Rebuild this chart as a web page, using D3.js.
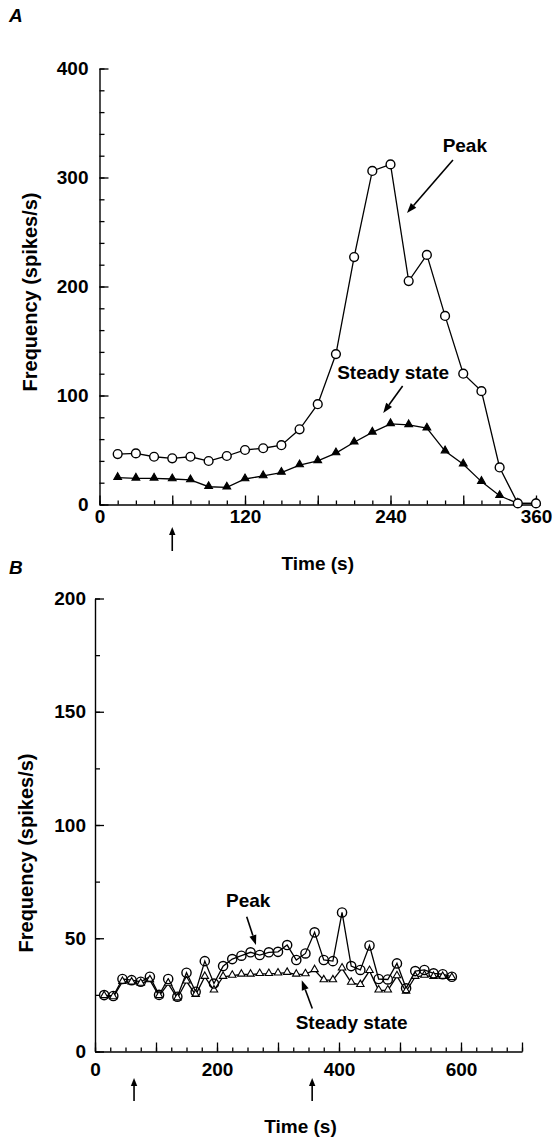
<!DOCTYPE html>
<html>
<head>
<meta charset="utf-8">
<script src="https://cdn.jsdelivr.net/npm/d3@7"></script>
<style>
  html, body { margin: 0; padding: 0; background: #fff; }
  svg text { font-family: "Liberation Sans", Arial, Helvetica, sans-serif; font-weight: bold; fill: #000; }
</style>
</head>
<body>
<svg id="fig" width="555" height="1137"></svg>
<script>
// ---- Panel A: frequency during a ramp stimulus (0-360 s) ----
const timesA  = [15, 30, 45, 60, 75, 90, 105, 120, 135, 150, 165, 180, 195, 210, 225, 240, 255, 270, 285, 300, 315, 330, 345, 360];
const peakA   = [46.3, 46.9, 43.8, 42.4, 43.8, 39.9, 44.5, 50, 51.6, 54.4, 69, 92, 138, 227, 306, 312, 205, 229, 173, 120, 104, 34, 1, 1];
const steadyA = [24.6, 24, 24, 23.4, 22.5, 16.3, 15.8, 23.4, 26.2, 29.3, 36.2, 40, 47.2, 57.1, 66.2, 74, 73, 70, 49, 37, 21, 8, 1, 1];
const stimA   = [60];
const yTicksA = [0, 100, 200, 300, 400];
const xLabelsA = [0, 120, 240, 360];

// ---- Panel B: frequency over 600 s ----
const timesB  = [15, 30, 45, 60, 75, 90, 105, 120, 135, 150, 165, 180, 195, 210, 225, 240, 255, 270, 285, 300,
                 315, 330, 345, 360, 375, 390, 405, 420, 435, 450, 465, 480, 495, 510, 525, 540, 555, 570, 585];
const peakB   = [24.9, 24.5, 32, 31.5, 30.8, 33, 25, 32, 24.2, 34.8, 26.4, 39.9, 30, 37.7, 40.8, 42.3, 43.8, 42.6, 43.8, 44,
                 47, 40.4, 43.3, 52.6, 40.4, 39.9, 61.4, 37.7, 36, 46.8, 32, 31.8, 38.9, 27.9, 35.5, 36, 34.5, 34.1, 33];
const steadyB = [24.5, 24, 30.8, 30.5, 30, 31.5, 24.5, 30, 23.5, 31, 25, 33, 27, 33, 33.5, 34, 34, 34.3, 34.3, 34.5,
                 34.8, 34, 34.2, 36, 31.5, 31.5, 36.7, 30.4, 29.4, 35.6, 27, 27, 33.3, 26.5, 33, 33.5, 33, 33, 32.5];
const stimB   = [64, 356];
const yTicksB = [0, 50, 100, 150, 200];
const xLabelsB = [0, 200, 400, 600];

const svg = d3.select("#fig");
const FS = 19;

function arrow(g, x1, y1, x2, y2, head = 10, half = 3.6) {
  const a = Math.atan2(y2 - y1, x2 - x1);
  const bx = x2 - head * Math.cos(a), by = y2 - head * Math.sin(a);
  g.append("line").attr("x1", x1).attr("y1", y1).attr("x2", bx).attr("y2", by)
    .attr("stroke", "#000").attr("stroke-width", 1.6);
  const px = -Math.sin(a) * half, py = Math.cos(a) * half;
  g.append("path")
    .attr("d", `M${x2},${y2}L${bx + px},${by + py}L${bx - px},${by - py}Z`)
    .attr("fill", "#000");
}

function styleAxis(sel) {
  sel.selectAll("path.domain").attr("stroke", "#000").attr("stroke-width", 1.4);
  sel.selectAll(".tick line").attr("stroke", "#000").attr("stroke-width", 1.3);
  sel.selectAll("text").attr("font-size", FS).attr("font-family", "Liberation Sans, Arial, sans-serif")
     .attr("font-weight", "bold").attr("fill", "#000");
}

function panel(cfg) {
  const g = svg.append("g");
  const x = d3.scaleLinear().domain(cfg.xDomain).range(cfg.xRange);
  const y = d3.scaleLinear().domain(cfg.yDomain).range(cfg.yRange);
  const x0 = cfg.xRange[0], y0 = cfg.yRange[0];

  // y axis: minor ticks, then major ticks with labels (ticks point inward)
  g.append("g").attr("transform", `translate(${x0},0)`)
    .call(d3.axisLeft(y).tickValues(d3.range(cfg.yDomain[0], cfg.yDomain[1] + 1e-9, cfg.yMinor))
      .tickSizeInner(-5).tickSizeOuter(0).tickFormat(""))
    .call(styleAxis);
  g.append("g").attr("transform", `translate(${x0},0)`)
    .call(d3.axisLeft(y).tickValues(cfg.yTicks).tickSizeInner(-9).tickSizeOuter(0).tickPadding(cfg.yPad))
    .call(styleAxis)
    .call(s => s.select("path.domain").remove());

  // x axis
  g.append("g").attr("transform", `translate(0,${y0})`)
    .call(d3.axisBottom(x).tickValues(d3.range(cfg.xDomain[0], cfg.xDomain[1] + 1e-9, cfg.xMinor))
      .tickSizeInner(-4).tickSizeOuter(0).tickFormat(""))
    .call(styleAxis);
  g.append("g").attr("transform", `translate(0,${y0})`)
    .call(d3.axisBottom(x).tickValues(d3.range(cfg.xDomain[0], cfg.xDomain[1] + 1e-9, cfg.xMajor))
      .tickSizeInner(-9).tickSizeOuter(0).tickPadding(cfg.xPad)
      .tickFormat(d => cfg.xLabels.includes(d) ? d : ""))
    .call(styleAxis)
    .call(s => s.select("path.domain").remove());

  // series lines
  const line = d3.line().x(d => x(d[0])).y(d => y(d[1]));
  const pk = cfg.times.map((t, i) => [t, cfg.peak[i]]);
  const ss = cfg.times.map((t, i) => [t, cfg.steady[i]]);
  g.append("path").datum(ss).attr("d", line).attr("fill", "none").attr("stroke", "#000").attr("stroke-width", 1.3);
  g.append("path").datum(pk).attr("d", line).attr("fill", "none").attr("stroke", "#000").attr("stroke-width", 1.3);

  // steady-state markers (triangles)
  g.append("g").selectAll("path").data(ss).join("path")
    .attr("transform", d => `translate(${x(d[0])},${y(d[1]) - 0.5})`)
    .attr("d", d3.symbol(d3.symbolTriangle, cfg.triSize))
    .attr("fill", cfg.triFill).attr("stroke", "#000").attr("stroke-width", 1.1);

  // peak markers (circles)
  g.append("g").selectAll("circle").data(pk).join("circle")
    .attr("cx", d => x(d[0])).attr("cy", d => y(d[1])).attr("r", cfg.circR)
    .attr("fill", cfg.circFill).attr("stroke", "#000").attr("stroke-width", 1.4);

  // stimulus arrows below the time axis
  cfg.stim.forEach(t => arrow(g, x(t), cfg.stimY[1], x(t), cfg.stimY[0], 8, 3.2));

  // axis titles
  g.append("text").attr("x", (cfg.xRange[0] + cfg.xRange[1]) / 2 + cfg.xTitleDx).attr("y", cfg.xTitleY)
    .attr("text-anchor", "middle").attr("font-size", FS).text("Time (s)");
  g.append("text")
    .attr("transform", `translate(${cfg.yTitleX},${cfg.yTitleY}) rotate(-90)`)
    .attr("text-anchor", "middle").attr("font-size", 20).text("Frequency (spikes/s)");

  // panel letter
  g.append("text").attr("x", 9).attr("y", cfg.letterY).attr("font-size", FS)
    .attr("font-style", "italic").text(cfg.letter);

  // series annotations
  cfg.notes.forEach(n => {
    g.append("text").attr("x", x(n.tx)).attr("y", y(n.ty)).attr("font-size", FS).text(n.text);
    arrow(g, x(n.from[0]), y(n.from[1]), x(n.to[0]), y(n.to[1]));
  });
}

panel({
  letter: "A", letterY: 22,
  xDomain: [0, 360], xRange: [99.5, 536], yDomain: [0, 400], yRange: [504.5, 68.5],
  yMinor: 20, yTicks: yTicksA, yPad: 11, xMinor: 15, xMajor: 60, xLabels: xLabelsA, xPad: 5,
  times: timesA, peak: peakA, steady: steadyA, triFill: "#000", circFill: "#fff", triSize: 26, circR: 4.4,
  stim: stimA, stimY: [527, 551],
  xTitleY: 570, xTitleDx: 0, yTitleX: 37, yTitleY: 292,
  notes: [
    { text: "Peak", tx: 283, ty: 323, from: [291.5, 316], to: [253.6, 267.4] },
    { text: "Steady state", tx: 196, ty: 115, from: [250, 108.7], to: [234, 84] }
  ]
});

panel({
  letter: "B", letterY: 574,
  xDomain: [0, 700], xRange: [95, 522], yDomain: [0, 200], yRange: [1051.5, 598.5],
  yMinor: 25, yTicks: yTicksB, yPad: 9, xMinor: 25, xMajor: 100, xLabels: xLabelsB, xPad: 11,
  times: timesB, peak: peakB, steady: steadyB, triFill: "#fff", circFill: "none", triSize: 24, circR: 4.6,
  stim: stimB, stimY: [1078, 1101],
  xTitleY: 1133, xTitleDx: -8, yTitleX: 33, yTitleY: 853,
  notes: [
    { text: "Peak", tx: 214.8, ty: 63.7, from: [248.7, 59.5], to: [263.9, 47] },
    { text: "Steady state", tx: 329, ty: 9.9, from: [356.2, 19], to: [338.9, 31.5] }
  ]
});
</script>
</body>
</html>
